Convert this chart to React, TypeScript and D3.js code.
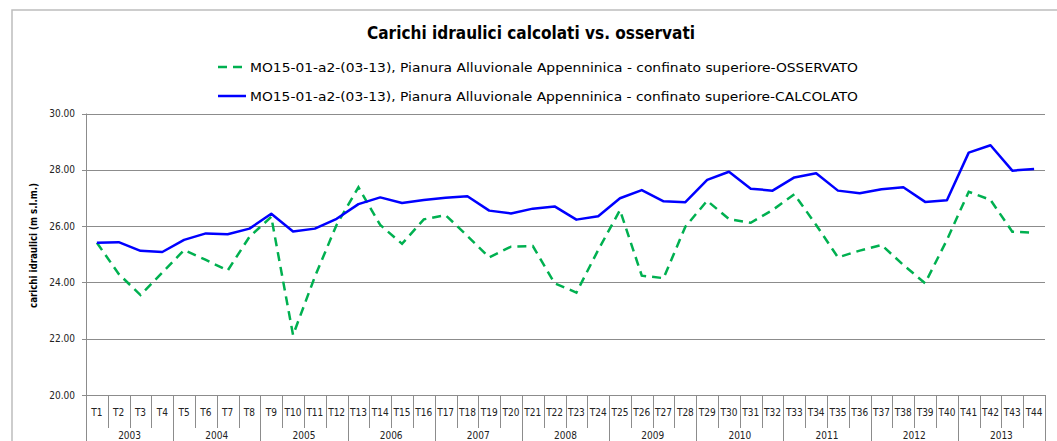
import React from "react";
import * as d3 from "d3";

const categories = Array.from({ length: 44 }, (_, i) => `T${i + 1}`);
const years = ["2003", "2004", "2005", "2006", "2007", "2008", "2009", "2010", "2011", "2012", "2013"];
const osservato = [
  25.41, 24.3, 23.55, 24.35, 25.15, 24.8, 24.42, 25.62, 26.33, 22.13, 24.2, 26.05,
  27.38, 26.04, 25.37, 26.24, 26.39, 25.65, 24.89, 25.27, 25.29, 23.97, 23.64, 25.15,
  26.57, 24.24, 24.15, 25.98, 26.9, 26.25, 26.12, 26.57, 27.13, 26.04, 24.89, 25.13,
  25.33, 24.62, 23.97, 25.51, 27.22, 26.93, 25.8, 25.77,
];
const calcolato = [
  25.41, 25.43, 25.12, 25.08, 25.51, 25.74, 25.71, 25.91, 26.44, 25.81, 25.91, 26.26,
  26.78, 27.02, 26.82, 26.93, 27.01, 27.06, 26.55, 26.45, 26.62, 26.7, 26.23, 26.35,
  26.99, 27.28, 26.88, 26.85, 27.64, 27.93, 27.33, 27.26, 27.73, 27.88, 27.26, 27.17,
  27.31, 27.38, 26.86, 26.92, 28.61, 28.87, 27.97, 28.03,
];
const yTicks = [20, 22, 24, 26, 28, 30];
const title = "Carichi idraulici calcolati vs. osservati";
const legendLabels = [
  "MO15-01-a2-(03-13), Pianura Alluvionale Appenninica - confinato superiore-OSSERVATO",
  "MO15-01-a2-(03-13), Pianura Alluvionale Appenninica - confinato superiore-CALCOLATO",
];
const yTitle = "carichi idraulici (m s.l.m.)";

const W = 1057;
const H = 441;
const left = 86;
const right = 1045;
const top = 113.5;
const bottom = 395;
const FONT = "'Liberation Sans Narrow', 'DejaVu Sans Condensed', 'Liberation Sans', sans-serif";

export default function App() {
  const x = d3.scaleBand<string>().domain(categories).range([left, right]).padding(0);
  const y = d3.scaleLinear().domain([20, 30]).range([bottom, top]);
  const bw = x.bandwidth();
  const line = d3
    .line<number>()
    .x((_, i) => (x(categories[i]) as number) + bw / 2)
    .y((d) => y(d));

  return (
    <svg
      width={W}
      height={H}
      style={{ position: "absolute", left: 0, top: 0, background: "#fff" }}
      fontFamily={FONT}
    >
      <rect x={12} y={10} width={1100} height={450} fill="#fff" stroke="#bdbdbd" strokeWidth={1.5} />
      <text
        x={531}
        y={39}
        textAnchor="middle"
        fontSize={18}
        fontWeight="bold"
        textLength={328}
        lengthAdjust="spacingAndGlyphs"
        fill="#000"
      >
        {title}
      </text>
      {/* legend */}
      <line x1={218} x2={246} y1={67} y2={67} stroke="#00b050" strokeWidth={2.5} strokeDasharray="9,6" />
      <text x={250} y={71.5} fontSize={13} textLength={608} lengthAdjust="spacingAndGlyphs" fill="#000">
        {legendLabels[0]}
      </text>
      <line x1={218} x2={246} y1={96} y2={96} stroke="#0000ff" strokeWidth={2.5} />
      <text x={250} y={100.5} fontSize={13} textLength={608} lengthAdjust="spacingAndGlyphs" fill="#000">
        {legendLabels[1]}
      </text>

      {/* gridlines */}
      {yTicks.map((t) => (
        <g key={t}>
          {t !== 20 && (
            <line x1={left} x2={right} y1={Math.round(y(t)) + 0.5} y2={Math.round(y(t)) + 0.5} stroke="#8c8c8c" strokeWidth={1} />
          )}
          <line x1={left - 4} x2={left} y1={Math.round(y(t)) + 0.5} y2={Math.round(y(t)) + 0.5} stroke="#8c8c8c" />
          <text
            x={left - 11}
            y={y(t)}
            dy="0.35em"
            textAnchor="end"
            fontSize={10}
            fill="#222"
          >
            {t.toFixed(2)}
          </text>
        </g>
      ))}
      {/* axes */}
      <line x1={left + 0.5} x2={left + 0.5} y1={top} y2={H} stroke="#8c8c8c" />
      <line x1={left} x2={right} y1={Math.round(bottom) + 0.5} y2={Math.round(bottom) + 0.5} stroke="#8c8c8c" />
      {categories.map((c, i) => {
        const x0 = (x(c) as number) + bw;
        const isYear = (i + 1) % 4 === 0;
        return (
          <g key={c}>
            <line
              x1={Math.round(x0) + 0.5}
              x2={Math.round(x0) + 0.5}
              y1={bottom}
              y2={isYear ? H : 428}
              stroke="#8c8c8c"
            />
            <text x={(x(c) as number) + bw / 2} y={416} textAnchor="middle" fontSize={10} fill="#222">
              {c}
            </text>
          </g>
        );
      })}
      {years.map((yr, i) => {
        const x0 = x(categories[i * 4]) as number;
        return (
          <text key={yr} x={x0 + bw * 2} y={439} textAnchor="middle" fontSize={10} fill="#222">
            {yr}
          </text>
        );
      })}
      <text
        transform={`translate(36.5,245.5) rotate(-90)`}
        textAnchor="middle"
        fontSize={10}
        fontWeight="bold"
        textLength={125}
        lengthAdjust="spacingAndGlyphs"
        fill="#000"
      >
        {yTitle}
      </text>

      {/* series */}
      <path d={line(osservato) || ""} fill="none" stroke="#00b050" strokeWidth={2.5} strokeDasharray="9,6" />
      <path d={line(calcolato) || ""} fill="none" stroke="#0000ff" strokeWidth={2.5} strokeLinejoin="round" />
    </svg>
  );
}
